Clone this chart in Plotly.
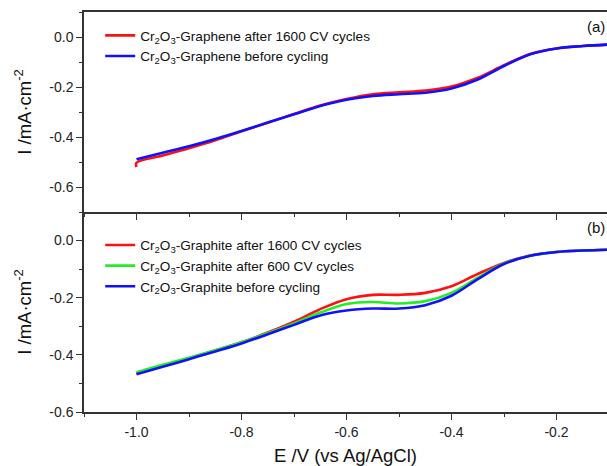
import plotly.graph_objects as go

# Potential axis (V vs Ag/AgCl)
E = [-1.0, -0.95, -0.9, -0.85, -0.8, -0.75, -0.7, -0.65, -0.6, -0.55, -0.5,
     -0.45, -0.4, -0.35, -0.3, -0.25, -0.2, -0.15, -0.1]

# (a) Cr2O3-Graphene
E_a_red = [-1.0] + E
graphene_after_1600 = [-0.52, -0.503, -0.474, -0.445, -0.413, -0.377, -0.343, -0.308,
                       -0.274, -0.248, -0.229, -0.221, -0.214, -0.198, -0.163, -0.113,
                       -0.068, -0.046, -0.036, -0.030]
graphene_before = [-0.489, -0.463, -0.437, -0.408, -0.376, -0.342, -0.309, -0.276,
                   -0.251, -0.236, -0.229, -0.223, -0.206, -0.170, -0.116, -0.069,
                   -0.046, -0.036, -0.030]

# (b) Cr2O3-Graphite
graphite_after_1600 = [-0.465, -0.438, -0.412, -0.385, -0.356, -0.322, -0.284, -0.240,
                       -0.205, -0.190, -0.190, -0.183, -0.160, -0.117, -0.078, -0.052,
                       -0.040, -0.035, -0.032]
graphite_after_600 = [-0.461, -0.435, -0.410, -0.384, -0.356, -0.324, -0.290, -0.252,
                      -0.222, -0.215, -0.220, -0.212, -0.183, -0.130, -0.080, -0.053,
                      -0.040, -0.035, -0.032]
graphite_before = [-0.468, -0.442, -0.415, -0.388, -0.360, -0.328, -0.295, -0.262,
                   -0.245, -0.238, -0.238, -0.226, -0.193, -0.135, -0.082, -0.053,
                   -0.040, -0.035, -0.032]

y_ticks = [0.0, -0.2, -0.4, -0.6]
y_tick_text = ["0.0", "-0.2", "-0.4", "-0.6"]
x_ticks = [-1.0, -0.8, -0.6, -0.4, -0.2]
x_tick_text = ["-1.0", "-0.8", "-0.6", "-0.4", "-0.2"]

RED, GREEN, BLUE = "#ff1010", "#22ee22", "#1010ff"
AXIS = "#333333"
FONT = "Liberation Sans, Arial, sans-serif"
LW = 2.6

fig = go.Figure()

fig.add_trace(go.Scatter(x=E_a_red, y=graphene_after_1600, xaxis="x2", yaxis="y2",
                         mode="lines", line=dict(color=RED, width=LW, shape="spline"),
                         name="Cr<sub>2</sub>O<sub>3</sub>-Graphene after 1600 CV cycles",
                         legend="legend"))
fig.add_trace(go.Scatter(x=E, y=graphene_before, xaxis="x2", yaxis="y2",
                         mode="lines", line=dict(color=BLUE, width=LW, shape="spline"),
                         name="Cr<sub>2</sub>O<sub>3</sub>-Graphene before cycling",
                         legend="legend"))

fig.add_trace(go.Scatter(x=E, y=graphite_after_1600, xaxis="x", yaxis="y",
                         mode="lines", line=dict(color=RED, width=LW, shape="spline"),
                         name="Cr<sub>2</sub>O<sub>3</sub>-Graphite after 1600 CV cycles",
                         legend="legend2"))
fig.add_trace(go.Scatter(x=E, y=graphite_after_600, xaxis="x", yaxis="y",
                         mode="lines", line=dict(color=GREEN, width=LW, shape="spline"),
                         name="Cr<sub>2</sub>O<sub>3</sub>-Graphite after 600 CV cycles",
                         legend="legend2"))
fig.add_trace(go.Scatter(x=E, y=graphite_before, xaxis="x", yaxis="y",
                         mode="lines", line=dict(color=BLUE, width=LW, shape="spline"),
                         name="Cr<sub>2</sub>O<sub>3</sub>-Graphite before cycling",
                         legend="legend2"))

x_common = dict(range=[-1.1, -0.1038], tickvals=x_ticks, ticktext=x_tick_text,
                ticks="outside", ticklen=6, tickwidth=1.3, tickcolor=AXIS,
                minor=dict(dtick=0.1, tick0=-1.0, ticks="outside", ticklen=3,
                           tickwidth=1.3, tickcolor=AXIS),
                showline=True, linecolor=AXIS, linewidth=1.5,
                showgrid=False, zeroline=False,
                tickfont=dict(family=FONT, size=14, color="#222"))
y_common = dict(tickvals=y_ticks, ticktext=y_tick_text,
                ticks="outside", ticklen=6, tickwidth=1.3, tickcolor=AXIS,
                minor=dict(dtick=0.1, tick0=0.0, ticks="outside", ticklen=3,
                           tickwidth=1.3, tickcolor=AXIS),
                showline=True, linecolor=AXIS, linewidth=1.5,
                showgrid=False, zeroline=False,
                tickfont=dict(family=FONT, size=14, color="#222"),
                title=dict(text="I /mA·cm<sup>-2</sup>", standoff=13,
                           font=dict(family=FONT, size=18.5, color="#111")))

legend_font = dict(family=FONT, size=13.6, color="#111")

fig.update_layout(
    width=607, height=466,
    margin=dict(l=84, r=0, t=12, b=54),
    paper_bgcolor="white", plot_bgcolor="white",
    font=dict(family=FONT, color="#111"),
    xaxis=dict(anchor="y", domain=[0, 1],
               title=dict(text="E /V (vs Ag/AgCl)", standoff=12,
                          font=dict(family=FONT, size=18.5, color="#111")),
               **x_common),
    xaxis2=dict(anchor="y2", domain=[0, 1], matches="x", showticklabels=False,
                mirror=True, **x_common),
    yaxis=dict(anchor="x", domain=[0, 0.5], range=[-0.6, 0.1], **y_common),
    yaxis2=dict(anchor="x2", domain=[0.5, 1], range=[-0.7, 0.1], **y_common),
    legend=dict(x=0.031, y=0.98, xanchor="left", yanchor="top",
                bgcolor="rgba(0,0,0,0)", font=legend_font, tracegroupgap=0),
    legend2=dict(x=0.031, y=0.456, xanchor="left", yanchor="top",
                 bgcolor="rgba(0,0,0,0)", font=legend_font, tracegroupgap=0),
    annotations=[
        dict(text="(a)", xref="paper", yref="paper", x=1, y=0.9625, xanchor="right",
             yanchor="middle", xshift=0, showarrow=False,
             font=dict(family=FONT, size=15, color="#111")),
        dict(text="(b)", xref="paper", yref="paper", x=1, y=0.4625, xanchor="right",
             yanchor="middle", xshift=0, showarrow=False,
             font=dict(family=FONT, size=15, color="#111")),
    ],
)

fig.write_html("out.html")
